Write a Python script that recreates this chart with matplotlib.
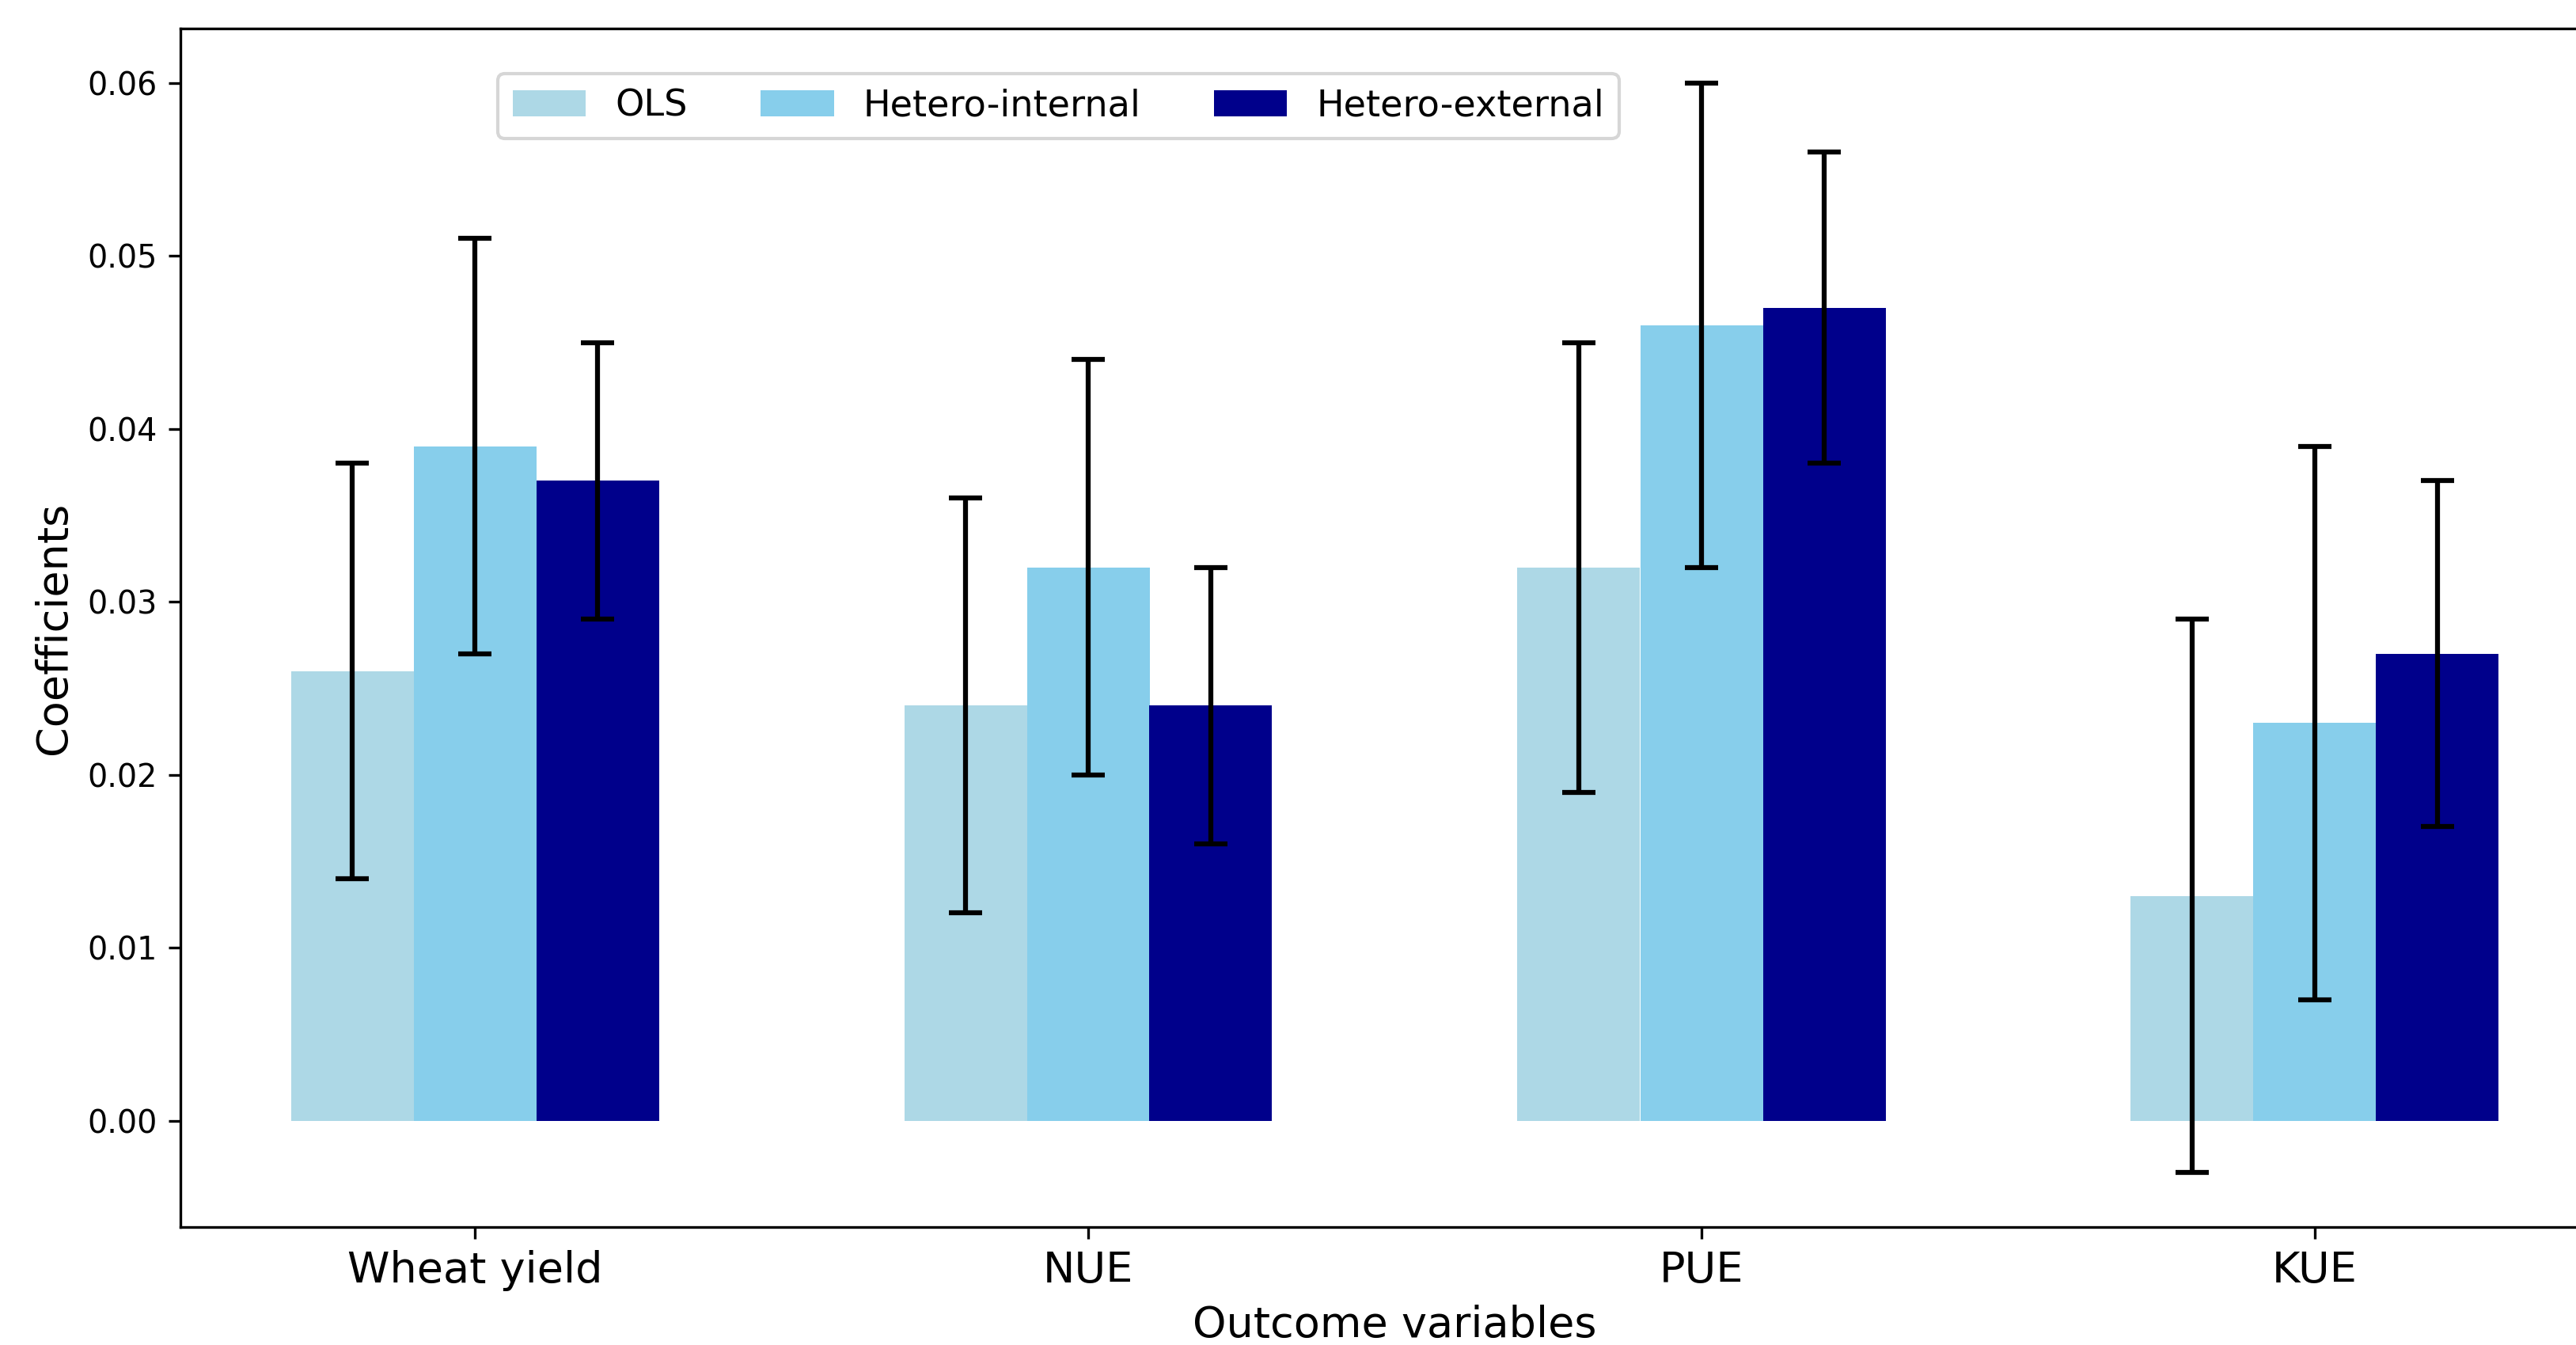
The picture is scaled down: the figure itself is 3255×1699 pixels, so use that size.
import matplotlib
matplotlib.use("Agg")
import matplotlib.pyplot as plt
import numpy as np

categories = ["Wheat yield", "NUE", "PUE", "KUE"]
series_names = ["OLS", "Hetero-internal", "Hetero-external"]

ols_coef = [0.026, 0.024, 0.032, 0.013]
ols_low = [0.014, 0.012, 0.019, -0.003]
ols_high = [0.038, 0.036, 0.045, 0.029]

int_coef = [0.039, 0.032, 0.046, 0.023]
int_low = [0.027, 0.020, 0.032, 0.007]
int_high = [0.051, 0.044, 0.060, 0.039]

ext_coef = [0.037, 0.024, 0.047, 0.027]
ext_low = [0.029, 0.016, 0.038, 0.017]
ext_high = [0.045, 0.032, 0.056, 0.037]

colors = ["lightblue", "skyblue", "darkblue"]

fig = plt.figure(figsize=(3255 / 300, 1699 / 300), dpi=300)
ax = fig.add_axes([228 / 3255, 149 / 1699, 3069 / 3255, 1514 / 1699])

x = np.arange(len(categories))
width = 0.2
data = [(ols_coef, ols_low, ols_high), (int_coef, int_low, int_high), (ext_coef, ext_low, ext_high)]
for i, ((coef, low, high), name, col) in enumerate(zip(data, series_names, colors)):
    coef = np.array(coef)
    yerr = np.vstack([coef - np.array(low), np.array(high) - coef])
    ax.bar(x + (i - 1) * width, coef, width, yerr=yerr, label=name, color=col,
           capsize=5, error_kw=dict(ecolor="black", elinewidth=1.5, capthick=1.5))

ax.set_xticks(x)
ax.set_xticklabels(categories, fontsize=13)
ax.tick_params(axis="y", labelsize=9.5)
ax.set_xlabel("Outcome variables", fontsize=13)
ax.set_ylabel("Coefficients", fontsize=13)
ax.legend(ncol=3, fontsize=11.1, loc="upper left", bbox_to_anchor=(0.1307, 0.9623),
          borderaxespad=0)

fig.savefig("out.png", dpi=300)
